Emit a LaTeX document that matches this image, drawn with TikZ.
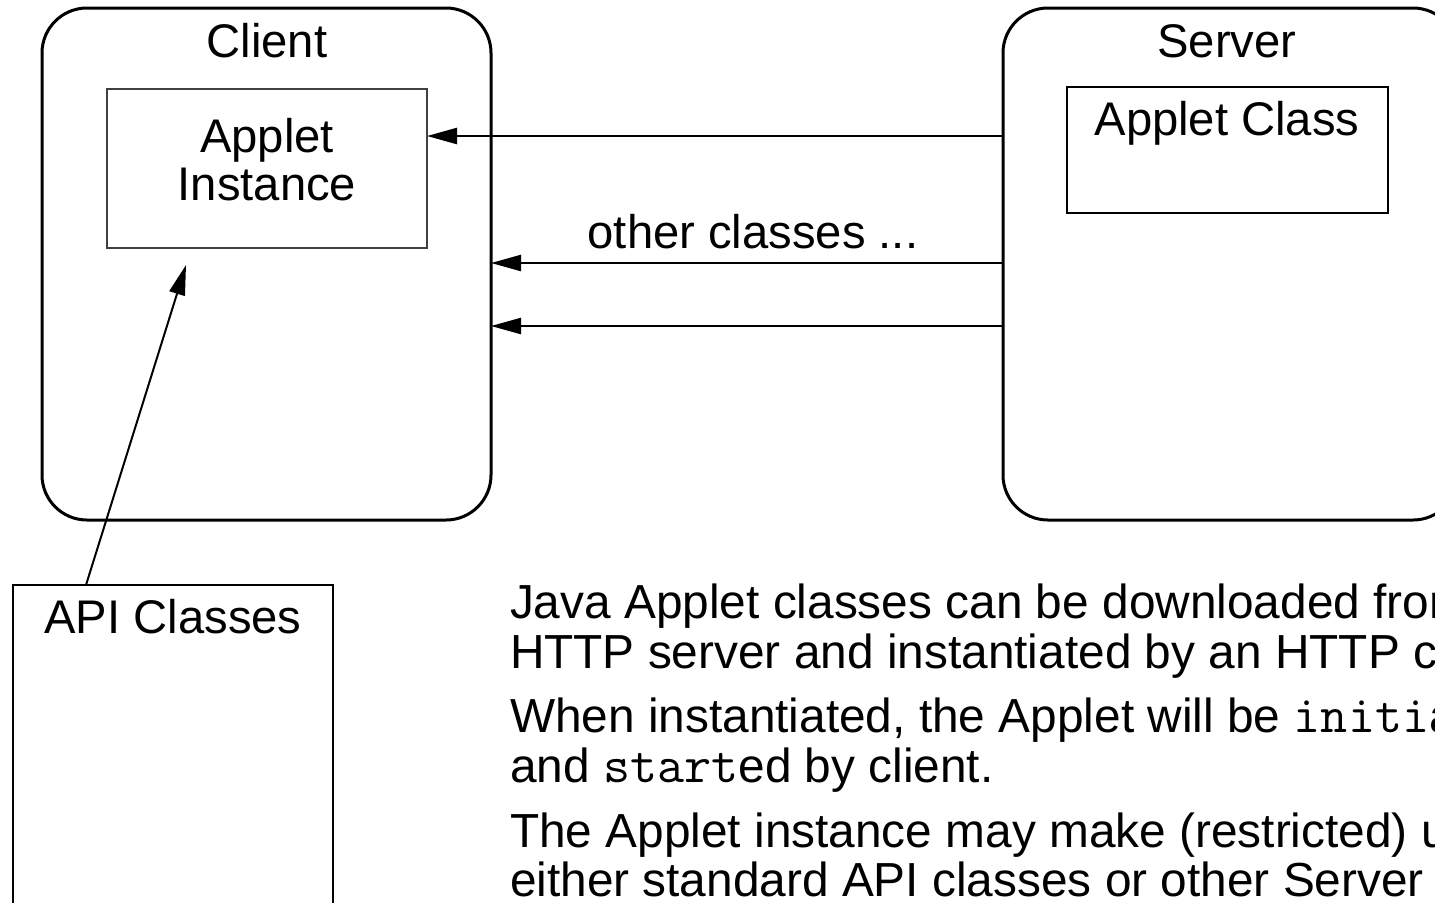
\documentclass[tikz,border=0pt]{standalone}
\usepackage{fontspec}
\setmainfont{Liberation Sans}
\usetikzlibrary{arrows.meta,calc}

\newcommand{\codeword}[1]{{\fontsize{26.3}{25}\selectfont\ttfamily #1}}

\begin{document}
\begin{tikzpicture}[x=0.5pt,y=-0.5pt,
  every node/.style={inner sep=0pt, outer sep=0pt},
  txt/.style={font=\fontsize{23.6}{25}\selectfont},
  body/.style={font=\fontsize{23.9}{25}\selectfont, anchor=base west},
  host/.style={draw, line width=1.5pt, rounded corners=22.5pt},
  classbox/.style={draw, line width=1.1pt},
  instbox/.style={draw=black!75, line width=0.8pt},
  arr/.style={line width=1.2pt, -{Triangle[length=15pt,width=8pt]}},
  uses/.style={line width=1pt, -{Triangle[length=15pt,width=8pt]}},
]
\useasboundingbox (0,0) rectangle (1435,902);
\clip (0,0) rectangle (1435,902);

% hosts
\node[host, minimum width=224.5pt, minimum height=256pt] (client) at (266.5,264) {};
\node[host, minimum width=227.5pt, minimum height=256pt] (server) at (1230.5,264) {};

% classes and instances
\node[instbox, minimum width=160pt, minimum height=79.5pt] (inst) at (267,168.5) {};
\node[classbox, minimum width=160.5pt, minimum height=63pt] (cls) at (1227.5,150) {};
\node[classbox, minimum width=160pt, minimum height=200pt] (api) at (173,785) {};

% labels
\node[txt, anchor=base] (clientlbl) at (267,57) {Client};
\node[txt, anchor=base] (serverlbl) at (1227,57) {Server};
\node[txt, anchor=base] (clslbl) at (1227,135) {Applet Class};
\node[txt, anchor=base] (instlbla) at (267,152) {Applet};
\node[txt, anchor=base] (instlblb) at (267,200) {Instance};
\node[txt, anchor=base] (apilbl) at (173,633) {API Classes};
\node[txt, anchor=base] (otherlbl) at (753,248) {other classes ...};

% downloads from server to client
\draw[arr] (server.west |- 0,136) -- (inst.east |- 0,136);
\draw[arr] (server.west |- 0,263) -- (client.east |- 0,263);
\draw[arr] (server.west |- 0,326) -- (client.east |- 0,326);

% use of the API classes
\coordinate (apitop) at ($(api.north west)+(73,0)$);
\coordinate (insttip) at ($(inst.south west)+(79,17)$);
\draw[uses] (apitop) -- (insttip);

% explanatory text
\node[body] (pa1) at (510,618) {Java Applet classes can be downloaded from an};
\node[body] (pa2) at (510,668) {HTTP server and instantiated by an HTTP client.};
\node[body] (pb1) at (510,732) {When instantiated, the Applet will be \codeword{initi}alised};
\node[body] (pb2) at (510,782) {and \codeword{start}ed by client.};
\node[body] (pc1) at (510,847) {The Applet instance may make (restricted) use of};
\node[body] (pc2) at (510,896) {either standard API classes or other Server classes.};
\end{tikzpicture}
\end{document}
